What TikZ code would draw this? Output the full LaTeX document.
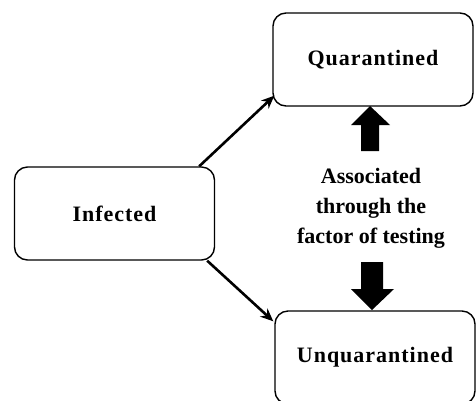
\documentclass[tikz,border=0pt]{standalone}
\usepackage{fontspec}
\setmainfont{Liberation Serif}
\newfontfamily\boxlabelfont[LetterSpace=4.5]{Liberation Serif}
\usetikzlibrary{arrows.meta,calc}
\tikzset{
  box/.style={draw=black, line width=1.4pt, rounded corners=13pt, fill=white,
    minimum width=200pt, minimum height=93pt, inner sep=0pt,
    font=\boxlabelfont\fontsize{22}{30}\selectfont\bfseries},
  conn/.style={line width=2.6pt, -{Stealth[length=13pt,width=11pt]}},
  blockarrow/.style={fill=black, draw=none},
  midtext/.style={align=center, inner sep=0pt, font=\fontsize{22}{30}\selectfont\bfseries}
}
\begin{document}
\begin{tikzpicture}[x=1pt,y=-1pt]
\useasboundingbox (0,0) rectangle (476,400);
\clip (0,0) rectangle (476,400);
\node[box] (inf) at (114.5,213.5) {Infected};
\node[box] (q) at (373,59.5) {\raisebox{4pt}{Quarantined}};
\node[box] (u) at (375,357.5) {\raisebox{4pt}{Unquarantined}};
\node[midtext] (mid) at (371,208) {Associated\\through the\\factor of testing};
\coordinate (a1) at ($(inf.north east)+(-16,0)$);
\coordinate (a2) at ($(q.south west)+(2,-11)$);
\coordinate (b1) at ($(inf.south east)+(-8,0)$);
\coordinate (b2) at ($(u.north west)+(-1,11)$);
\draw[conn] (a1) -- (a2);
\draw[conn] (b1) -- (b2);
% up block arrow
\fill[blockarrow] (361,151) -- (379,151) -- (379,125) -- (390,125) -- (370,106) -- (351,125) -- (361,125) -- cycle;
% down block arrow
\fill[blockarrow] (361,262) -- (383,262) -- (383,289) -- (394,289) -- (372,310) -- (351,289) -- (361,289) -- cycle;
\end{tikzpicture}
\end{document}
